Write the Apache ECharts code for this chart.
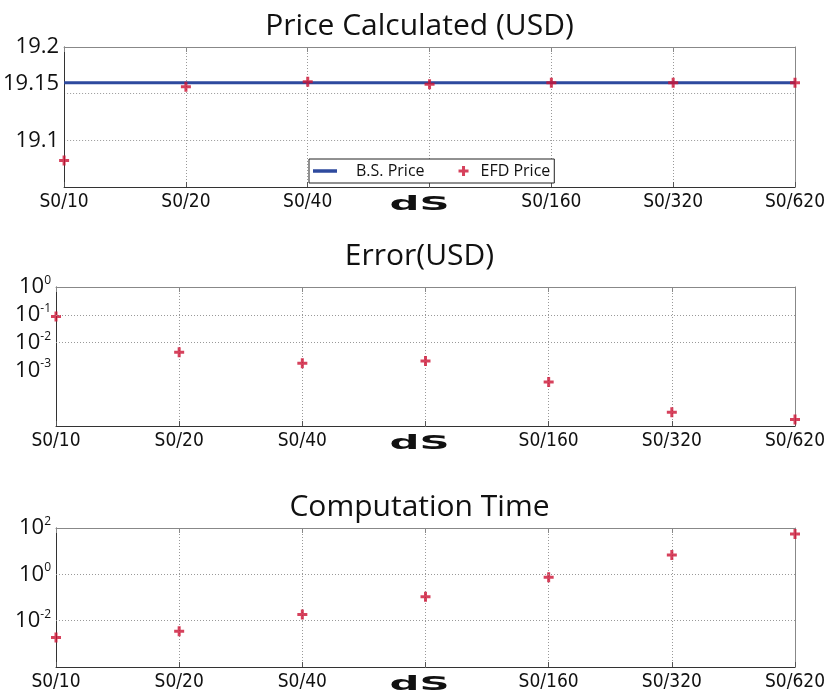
<!DOCTYPE html>
<html><head><meta charset="utf-8">
<script src="https://cdn.jsdelivr.net/npm/echarts@6/dist/echarts.min.js"></script>
<style>html,body{margin:0;padding:0;background:#fff}#c{width:839px;height:699px}</style>
</head><body><div id="c"></div>
<script>
const categories = ['S0/10','S0/20','S0/40','S0/80','S0/160','S0/320','S0/620'];
const bsPrice = [19.1616,19.1616,19.1616,19.1616,19.1616,19.1616,19.1616];
const efdPrice = [19.0785,19.1573,19.1627,19.1600,19.1616,19.1616,19.1616];
const errorUSD = [0.087,0.0045,0.0018,0.0022,0.00038,0.000031,0.000017];
const compTime = [0.0019,0.0035,0.0186,0.107,0.74,6.8,55];
const titles = ['Price Calculated (USD)','Error(USD)','Computation Time'];
const xName = 'dS';

const RED = '#cc1133', BLUE = '#2e4a9e';
const plus = 'path://M3.5,0h3v3.5h3.5v3h-3.5v3.5h-3v-3.5h-3.5v-3h3.5z';
const lineIcon = 'path://M0,0h24v3.5h-24z';
const tickFont = 'DejaVu Sans Condensed, Roboto, sans-serif';
const titleFont = 'Open Sans, Noto Sans, sans-serif';
const tops = [47, 287, 528], heights = [140, 139, 139];

const grids = tops.map((t,i)=>({left:56,right:44,top:t,height:heights[i],show:false}));
const dotted = {show:true,lineStyle:{color:'#999',type:[1,2],width:1}};

const xAxes = [], yAxes = [];
for (let i=0;i<3;i++){
  xAxes.push({type:'category',gridIndex:i,data:categories,boundaryGap:false,
    axisLine:{lineStyle:{color:'#333',width:1}},
    axisTick:{inside:true,length:5,lineStyle:{color:'#555'}},
    axisLabel:{margin:6,fontSize:19,color:'#111',fontFamily:tickFont,
      formatter:(v,idx)=> idx===3 ? '' : v},
    splitLine:dotted});
  xAxes.push({type:'category',gridIndex:i,data:categories,boundaryGap:false,position:'top',
    axisLine:{lineStyle:{color:'#888'}},axisTick:{inside:true,length:5,lineStyle:{color:'#888'}},
    axisLabel:{show:false},splitLine:{show:false}});
}
const supRich = {b:{fontSize:22,fontFamily:titleFont,color:'#111'},
  s:{fontSize:12,fontFamily:titleFont,color:'#111',padding:[0,0,13,0]}};
// plot 1
yAxes.push({type:'value',gridIndex:0,min:19.05,max:19.2,interval:0.05,
  axisLine:{show:true,lineStyle:{color:'#333'}},
  axisTick:{inside:true,length:5,lineStyle:{color:'#555'}},
  axisLabel:{margin:5,fontSize:22,color:'#111',fontFamily:titleFont,
    formatter:v=> v<19.07 ? '' : (Math.abs(v-19.15)<1e-6 ? '{u|19.15}' : String(+v.toFixed(2))),
    rich:{u:{fontSize:22,fontFamily:titleFont,color:'#111',padding:[0,0,20,0]}}},
  splitLine:dotted});
yAxes.push({type:'value',gridIndex:0,min:19.05,max:19.2,interval:0.05,position:'right',
  axisLine:{show:true,lineStyle:{color:'#888'}},axisTick:{inside:true,length:5,lineStyle:{color:'#888'}},
  axisLabel:{show:false},splitLine:{show:false}});
// plot 2
yAxes.push({type:'log',gridIndex:1,min:1e-5,max:1,logBase:10,
  axisLine:{show:true,lineStyle:{color:'#333'}},
  axisTick:{inside:true,length:5,lineStyle:{color:'#555'}},
  axisLabel:{margin:5,formatter:(v)=>{const e=Math.round(Math.log10(v)); return e<-3 ? '' : '{b|10}{s|'+e+'}';},rich:supRich},
  splitLine:{show:false}});
yAxes.push({type:'log',gridIndex:1,min:1e-5,max:1,logBase:10,position:'right',
  axisLine:{show:true,lineStyle:{color:'#888'}},axisTick:{inside:true,length:5,lineStyle:{color:'#888'}},
  axisLabel:{show:false},splitLine:{show:false}});
// plot 3
yAxes.push({type:'log',gridIndex:2,min:1.00001e-4,max:100,logBase:10,
  axisLine:{show:true,lineStyle:{color:'#333'}},
  axisTick:{inside:true,length:5,lineStyle:{color:'#555'}},
  axisLabel:{margin:5,formatter:(v)=>{const e=Math.round(Math.log10(v)); return (e<-2||e%2!==0)?'':'{b|10}{s|'+e+'}';},rich:supRich},
  splitLine:{show:false}});
yAxes.push({type:'log',gridIndex:2,min:1.00001e-4,max:100,logBase:10,position:'right',
  axisLine:{show:true,lineStyle:{color:'#888'}},axisTick:{show:false},
  axisLabel:{show:false},splitLine:{show:false}});

const gridMark = (vals)=>({silent:true,symbol:'none',label:{show:false},
  lineStyle:{color:'#999',type:[1,2],width:1},data:vals.map(v=>({yAxis:v}))});

const option = {
  animation:false,
  backgroundColor:'#fff',
  title: titles.map((t,i)=>({text:t,left:'center',top:[6,236,487][i],
    textStyle:{fontSize:30,fontWeight:'normal',fontFamily:titleFont,color:'#111'}})),
  legend:{left:309,top:159,orient:'horizontal',padding:[4,4,4,4],itemGap:34,
    borderColor:'#222',borderWidth:1,backgroundColor:'#fff',
    textStyle:{fontSize:16,fontFamily:titleFont,color:'#111'},
    data:[{name:'B.S. Price',icon:lineIcon,itemStyle:{color:BLUE},textStyle:{padding:[0,0,0,14]}},
          {name:'EFD Price',icon:plus,itemStyle:{color:RED}}],
    itemWidth:24,itemHeight:10},
  graphic: tops.map((t,i)=>({type:'text',left:'center',top:t+heights[i]+9,
    style:{text:xName,font:'bold 19px DejaVu Sans',fill:'#111'},scaleX:2.2,originX:0})),
  grid:grids,
  xAxis:xAxes,
  yAxis:yAxes,
  series:[
    {name:'B.S. Price',type:'line',xAxisIndex:0,yAxisIndex:0,data:bsPrice,symbol:'none',
      lineStyle:{color:BLUE,width:3},z:3},
    {name:'EFD Price',type:'scatter',xAxisIndex:0,yAxisIndex:0,data:efdPrice,symbol:plus,symbolSize:10,
      itemStyle:{color:RED},z:4},
    {name:'Error',type:'scatter',xAxisIndex:2,yAxisIndex:2,data:errorUSD,symbol:plus,symbolSize:10,
      itemStyle:{color:RED},markLine:gridMark([0.1,0.01,0.001])},
    {name:'Time',type:'scatter',xAxisIndex:4,yAxisIndex:4,data:compTime,symbol:plus,symbolSize:10,
      itemStyle:{color:RED},markLine:gridMark([1,0.01])}
  ]
};
echarts.init(document.getElementById('c')).setOption(option);
</script></body></html>
